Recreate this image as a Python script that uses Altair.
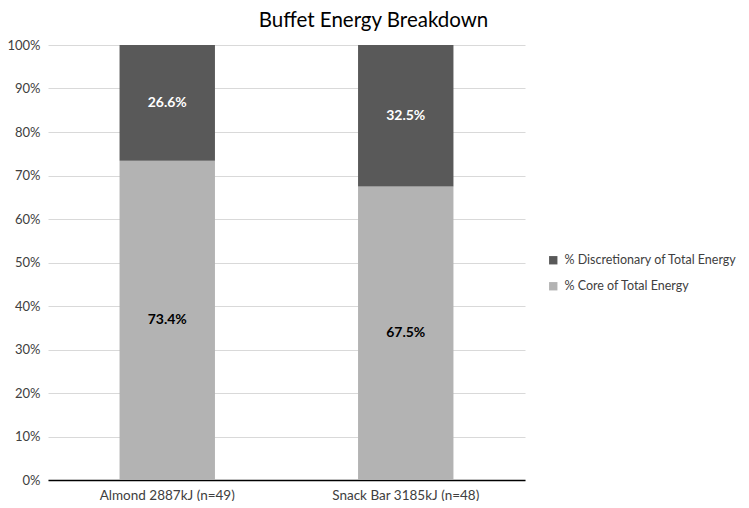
import altair as alt
import pandas as pd

categories = ["Almond 2887kJ (n=49)", "Snack Bar 3185kJ (n=48)"]
series = ["% Discretionary of Total Energy", "% Core of Total Energy"]
core = [73.4, 67.5]
discretionary = [26.6, 32.5]

rows = []
for i, c in enumerate(categories):
    rows.append({"cat": c, "series": series[1], "value": core[i], "ord": 0, "label": f"{core[i]:.1f}%"})
    rows.append({"cat": c, "series": series[0], "value": discretionary[i], "ord": 1, "label": f"{discretionary[i]:.1f}%"})
df = pd.DataFrame(rows)

FONT = "Lato"

x = alt.X("cat:N", sort=categories, title=None,
          scale=alt.Scale(paddingInner=0.6, paddingOuter=0.3),
          axis=alt.Axis(labelAngle=0, labelFontSize=13.5, labelColor="#404040", labelFont=FONT,
                        domainColor="#000000", domainWidth=1.5, ticks=False, labelPadding=8))

base = alt.Chart(df)

bars = base.mark_bar().encode(
    x=x,
    y=alt.Y("value:Q", stack="zero", title=None,
            scale=alt.Scale(domain=[0, 100]),
            axis=alt.Axis(values=list(range(0, 101, 10)), labelExpr="datum.value + '%'",
                          labelFontSize=13, labelColor="#404040", labelFont=FONT,
                          domain=False, ticks=False, gridColor="#d9d9d9", gridWidth=1,
                          labelPadding=8)),
    color=alt.Color("series:N", sort=series,
                    scale=alt.Scale(domain=series, range=["#595959", "#b3b3b3"]),
                    legend=alt.Legend(title=None, orient="none", legendX=499, legendY=209,
                                      symbolType="square", symbolSize=70, symbolStrokeWidth=0,
                                      labelFontSize=12.5, labelColor="#404040", labelFont=FONT,
                                      labelLimit=0, rowPadding=13, labelOffset=5)),
    order=alt.Order("ord:Q", sort="ascending"),
)

labels = base.transform_stack(
    stack="value", groupby=["cat"], as_=["y0", "y1"],
    sort=[alt.SortField("ord", order="ascending")]
).transform_calculate(
    mid="(datum.y0 + datum.y1) / 2"
).mark_text(fontWeight="bold", fontSize=14, font=FONT).encode(
    x=alt.X("cat:N", sort=categories),
    y=alt.Y("mid:Q"),
    text="label:N",
    color=alt.condition(alt.datum.ord == 1, alt.value("#ffffff"), alt.value("#000000")),
)

chart = alt.layer(bars, labels).properties(
    width=477, height=435,
    padding={"left": 40, "top": 37, "right": 216, "bottom": 21},
    autosize=alt.AutoSizeParams(type="none"),
    title=alt.Title("Buffet Energy Breakdown", fontSize=20.5, font=FONT, fontWeight="normal",
                    color="#000000", anchor="middle", dx=87, offset=8),
).configure_view(stroke=None)

chart.save("out.html", embed_options={"renderer": "svg", "actions": False})
